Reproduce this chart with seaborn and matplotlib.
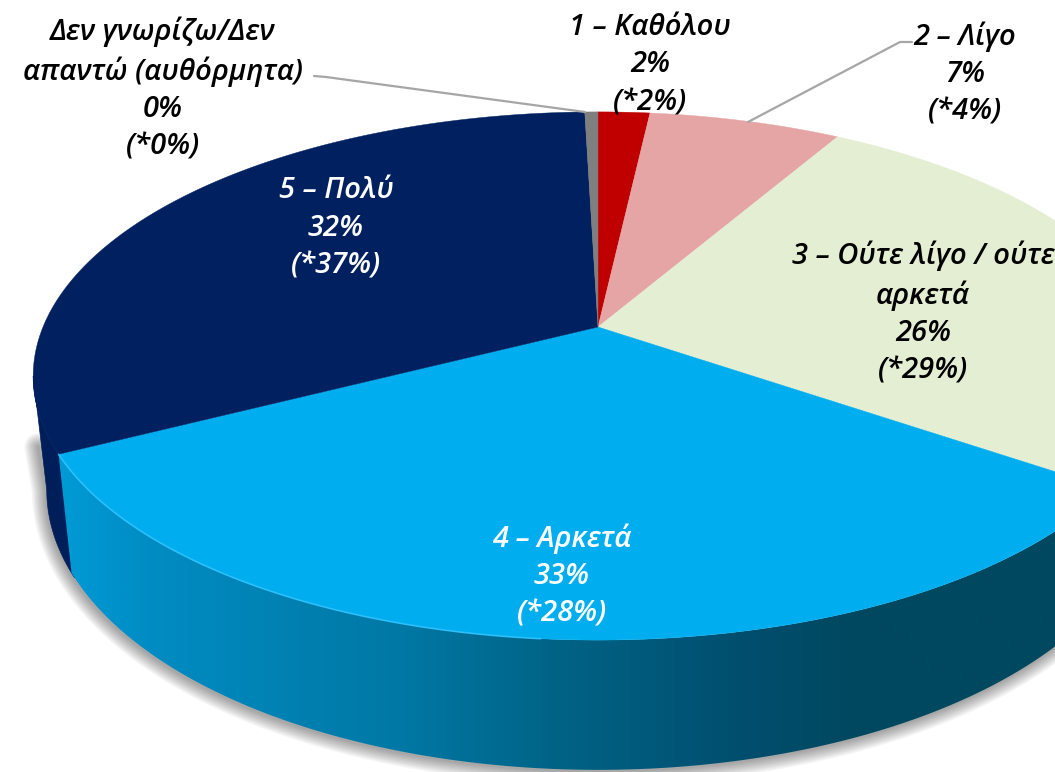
import numpy as np
import seaborn as sns
import matplotlib
matplotlib.use("Agg")
import matplotlib.pyplot as plt
from matplotlib.colors import LinearSegmentedColormap
from matplotlib.patches import Polygon

# slices clockwise from 12 o'clock, sizes
categories = ["1 – Καθόλου", "2 – Λίγο", "3 – Ούτε λίγο / ούτε\nαρκετά", "4 – Αρκετά", "5 – Πολύ",
              "Δεν γνωρίζω/Δεν\nαπαντώ (αυθόρμητα)"]
slice_sizes = [1.77, 6.58, 26.25, 32.85, 32.1, 0.45]
percent_labels = ["2%", "7%", "26%", "33%", "32%", "0%"]
star_labels = ["(*2%)", "(*4%)", "(*29%)", "(*28%)", "(*37%)", "(*0%)"]
slice_colors = ["#C00000", "#E6A5A5", "#E4EED2", "#00AEEF", "#002060", "#7F7F7F"]
text_colors = ["black", "black", "black", "white", "white", "black"]
label_centers = [(650, 65), (965, 74), (923, 313), (562, 576), (336, 228), (163, 89)]

# fake 3d: a projective squash of the unit circle, pixels in the picture
CX, CY = 598, 327
A, B, K = 555, 255, 0.1855
SIDE_SX, SIDE_SY, SIDE_DY = 0.976, 1.06, 111
TANGENT = -180 + np.degrees(np.arcsin(K))  # leftmost point of the ellipse

# wall shading from left to right
side_x = [55, 150, 300, 400, 550, 745, 860, 1100]
side_stops = ["#009BD7", "#008CC3", "#0080B0", "#0078A5", "#006487", "#004E6E", "#00485F", "#00485F"]


def top_xy(theta):
    t = np.radians(theta)
    w = 1 + K * np.sin(t)
    return A * np.cos(t) / w, B * np.sin(t) / w


def top_edge(theta):
    x, y = top_xy(theta)
    return np.column_stack([CX + x, CY - y])


def bottom_edge(theta):
    x, y = top_xy(theta)
    return np.column_stack([CX + SIDE_SX * x, CY + SIDE_DY - SIDE_SY * y])


sns.set_theme(style="white")
plt.rcParams["font.family"] = ["Open Sans", "DejaVu Sans"]
palette = sns.color_palette(slice_colors)

fig = plt.figure(figsize=(10.55, 7.72), dpi=100, facecolor="white")
ax = fig.add_axes([0, 0, 1, 1])

# the pie gives the wedge angles, the wedges themselves are redrawn squashed
wedges, _ = ax.pie(slice_sizes, startangle=90, counterclock=False, colors=palette)
angles = [(w.theta1, w.theta2) for w in wedges]
for w in wedges:
    w.remove()

# soft shadow under the rim
rim = np.vstack([top_edge(np.array([TANGENT])) + [6, 70], bottom_edge(np.linspace(TANGENT, 12, 300))])
for lw in range(2, 22, 2):
    ax.plot(rim[:, 0] - 1, rim[:, 1] + 1, color="black", lw=lw, alpha=0.04, zorder=1,
            solid_capstyle="round")

# side walls: dark navy on the left, shaded blue round the front
blue_start, blue_end = angles[3]
arc = np.linspace(TANGENT, blue_start + 1, 80)
ax.add_patch(Polygon(np.vstack([top_edge(arc), bottom_edge(arc)[::-1]]), closed=True,
                     facecolor="#001E5A", edgecolor="#001E5A", lw=0.5, zorder=2))

arc = np.linspace(blue_start, blue_end + 46, 300)
wall = Polygon(np.vstack([top_edge(arc), bottom_edge(arc)[::-1]]), closed=True, transform=ax.transData,
               facecolor="none", edgecolor="none")
ax.add_patch(wall)
pos = (np.array(side_x) - side_x[0]) / (side_x[-1] - side_x[0])
cmap = LinearSegmentedColormap.from_list("side", list(zip(pos, side_stops)))
grad = np.linspace(0, 1, 512).reshape(1, -1)
im = ax.imshow(grad, cmap=cmap, extent=(side_x[0], side_x[-1], 772, 0), aspect="auto", zorder=3)
im.set_clip_path(wall)

# top faces
for (t1, t2), color in zip(angles, palette):
    arc = top_edge(np.linspace(t1, t2, 200))
    ax.add_patch(Polygon(np.vstack([[CX, CY], arc]), closed=True, facecolor=color, edgecolor=color,
                         lw=0.3, zorder=4))

# light line along the rim of the blue slice
shine = top_edge(np.linspace(blue_start, blue_start + 58, 150))
ax.plot(shine[:, 0], shine[:, 1], color="#33C4FF", lw=1.2, alpha=0.8, zorder=5)

# leader lines
ax.plot([748, 900, 912], [122, 42, 42], color="#A6A6A6", lw=1.6, zorder=5)
ax.plot([585, 326, 314], [112, 77, 76], color="#A6A6A6", lw=1.6, zorder=5)

for cat, pct, star, (x, y), c in zip(categories, percent_labels, star_labels, label_centers, text_colors):
    ax.text(x, y, f"{cat}\n{pct}\n{star}", ha="center", va="center", color=c, fontsize=21,
            style="italic", weight="semibold", linespacing=1.39, zorder=6)

ax.set_xlim(0, 1055)
ax.set_ylim(772, 0)
ax.set_aspect("auto")
ax.axis("off")

fig.savefig("out.png", dpi=100, facecolor="white")
